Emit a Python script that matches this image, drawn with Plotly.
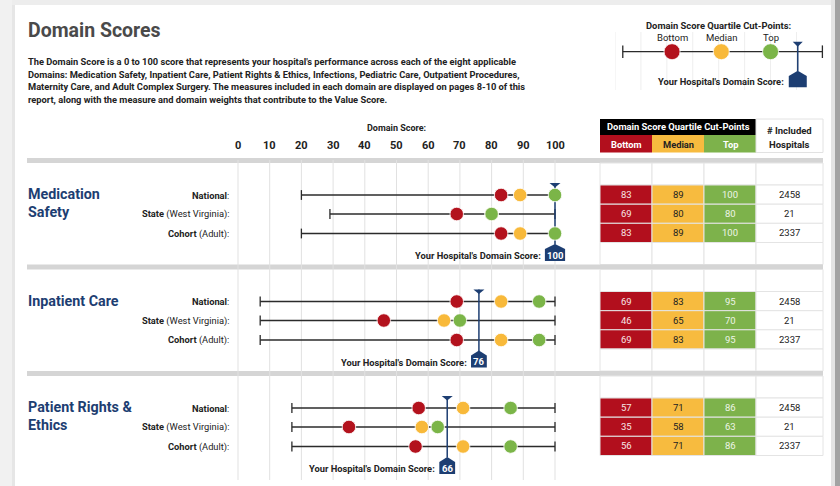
import plotly.graph_objects as go

# ---------------- data ----------------
TICKS = [0, 10, 20, 30, 40, 50, 60, 70, 80, 90, 100]
DOMAIN_LINES = [["Medication", "Safety"], ["Inpatient Care"], ["Patient Rights &", "Ethics"]]
GROUP_BOLD = ["National", "State", "Cohort"]
GROUP_REST = ["", " (West Virginia)", " (Adult)"]
MIN_SCORE = [[20, 29, 20], [7, 7, 7], [17, 17, 17]]
MAX_SCORE = [[100, 100, 100], [100, 100, 100], [100, 100, 100]]
BOTTOM = [[83, 69, 83], [69, 46, 69], [57, 35, 56]]
MEDIAN = [[89, 80, 89], [83, 65, 83], [71, 58, 71]]
TOP = [[100, 80, 100], [95, 70, 95], [86, 63, 86]]
N_HOSPITALS = [[2458, 21, 2337], [2458, 21, 2337], [2458, 21, 2337]]
YOUR_SCORE = [100, 76, 66]
QUARTILE_LABELS = ["Bottom", "Median", "Top"]
# illustrative key (legend) positions
KEY_VALUES = [22, 41, 60]
KEY_RANGE = [3, 80]
KEY_YOURS = 70.5

PARAGRAPH = [
    "The Domain Score is a 0 to 100 score that represents your hospital's performance across each of the eight applicable",
    "Domains: Medication Safety, Inpatient Care, Patient Rights & Ethics, Infections, Pediatric Care, Outpatient Procedures,",
    "Maternity Care, and Adult Complex Surgery. The measures included in each domain are displayed on pages 8-10 of this",
    "report, along with the measure and domain weights that contribute to the Value Score.",
]

# ---------------- styles ----------------
W, H = 840, 486
FONT = "Roboto"
RED, YEL, GRN = "#b3121d", "#f8b93a", "#7bb548"
CRED, CYEL, CGRN = "#b20f1d", "#f7bb3f", "#7db24b"
NAVY = "#1d3e72"
DARK = "#222222"
SM = 9.3
PXU = (555 - 238) / 100.0
X0 = 238
XR = [-10, 120]


def px(x):
    return x / W


def py(y):
    return 1 - y / H


fig = go.Figure()
shapes = []
ann = []


def text(x, y, t, size=SM, color=DARK, xanchor="center", xref="paper", yref="paper", **kw):
    ann.append(dict(x=x, y=y, text=t, xref=xref, yref=yref, xanchor=xanchor, yanchor="middle",
                    showarrow=False, font=dict(family=FONT, size=size, color=color), **kw))


def rect(x0, y0, x1, y1, fill, line=None, layer="below", lw=1):
    shapes.append(dict(type="rect", xref="paper", yref="paper", x0=px(x0), x1=px(x1), y0=py(y0), y1=py(y1),
                       fillcolor=fill, line=dict(width=lw if line else 0, color=line or fill), layer=layer))


# page edges
rect(0, 0, 840, 5, "#ededed")
rect(0, 0, 12, 486, "#f1f1f1")
rect(12, 5, 15, 486, "#e6e6e6")
rect(831, 0, 835, 486, "#e4e4e4")
rect(835, 0, 840, 486, "#a3a3a3")

# title + paragraph
text(px(26), py(31), "<b>Domain Scores</b>", size=19.5, color="#4a4a4a", xanchor="left")
for i, line in enumerate(PARAGRAPH):
    text(px(26), py(62 + 12.4 * i), "<b>" + line + "</b>", size=9.3, color=DARK, xanchor="left")

# gridlines on score axis
for t in TICKS:
    shapes.append(dict(type="line", xref="x", yref="y", x0=t, x1=t, y0=160, y1=480,
                       line=dict(color="#e1e1e1", width=1), layer="below"))
    text(t, 145, "<b>%d</b>" % t, size=11, color=DARK, xref="x", yref="y")
text(50, 128, "<b>Domain Score:</b>", size=9, color=DARK, xref="x", yref="y")

# table header
rect(600, 119, 756, 135, "#000000")
text(px(678), py(127), "<b>Domain Score Quartile Cut-Points</b>", size=9.4, color="white")
hdr_cols = [(600, 652, CRED, "white"), (652, 704, CYEL, DARK), (704, 756, CGRN, "white")]
for (a, b, c, tc), lab in zip(hdr_cols, QUARTILE_LABELS):
    rect(a, 135, b, 152.5, c)
    text(px((a + b) / 2), py(144), "<b>" + lab + "</b>", size=SM, color=tc)
rect(756, 119, 823, 152.5, "white", line="#e2e2e2")
text(px(789.5), py(130), "<b># Included</b>", size=9.5, color=DARK)
text(px(789.5), py(144), "<b>Hospitals</b>", size=9.5, color=DARK)

COLS = [600, 652, 704, 756, 823]
ROW_OFF = [37, 56, 75.5]
nb = len(YOUR_SCORE)

line_x, line_y, tick_x, tick_y = [], [], [], []
dot = {"r": ([], []), "y": ([], []), "g": ([], [])}
hosp_x, hosp_y = [], []

for i in range(nb):
    B = 158 + 106.5 * i
    # grey separator bar
    rect(27, B, 823, B + 5, "#d5d5d5")
    # domain name
    for j, ln in enumerate(DOMAIN_LINES[i]):
        text(px(26), py(B + 36 + 18 * j), "<b>" + ln + "</b>", size=14.3, color=NAVY, xanchor="left")
    # table cells
    row_edges = [B + 5, B + 27, B + 46.2, B + 65.3, B + 84.5]
    if i < nb - 1:
        row_edges.append(B + 106.5)
    for r in range(len(row_edges) - 1):
        for c in range(4):
            data_row = 1 <= r <= 3
            if data_row and c < 3:
                fill = [CRED, CYEL, CGRN][c]
            else:
                fill = "white"
            rect(COLS[c], row_edges[r], COLS[c + 1], row_edges[r + 1], fill, line="#e4e4e4")
    for k in range(3):
        yc = (row_edges[k + 1] + row_edges[k + 2]) / 2
        vals = [BOTTOM[i][k], MEDIAN[i][k], TOP[i][k], N_HOSPITALS[i][k]]
        tcs = ["#f7e6e6", DARK, "#eef5e8", DARK]
        for c in range(4):
            text(px((COLS[c] + COLS[c + 1]) / 2), py(yc), str(vals[c]), size=9.5, color=tcs[c])
    # chart rows
    for k in range(3):
        y = B + ROW_OFF[k]
        text(px(231), py(y), "<b>" + GROUP_BOLD[k] + "</b>" + GROUP_REST[k] + ":", size=SM,
             color=DARK, xanchor="right")
        line_x += [MIN_SCORE[i][k], MAX_SCORE[i][k], None]
        line_y += [y, y, None]
        tick_x += [MIN_SCORE[i][k], MAX_SCORE[i][k]]
        tick_y += [y, y]
        dot["r"][0].append(BOTTOM[i][k]); dot["r"][1].append(y)
        dot["y"][0].append(MEDIAN[i][k]); dot["y"][1].append(y)
        dot["g"][0].append(TOP[i][k]); dot["g"][1].append(y)
    # hospital marker
    h = YOUR_SCORE[i]
    hosp_x += [h, h, None]
    hosp_y += [B + 25, B + 86.5, None]
    tw = 5.5 / PXU
    shapes.append(dict(type="path", xref="x", yref="y",
                       path="M %f,%f L %f,%f L %f,%f Z" % (h - tw, B + 25, h + tw, B + 25, h, B + 29.5),
                       fillcolor=NAVY, line=dict(width=0), layer="above"))
    hwpx = 3.5 + 2.2 * len(str(h))
    hw = hwpx / PXU
    shapes.append(dict(type="path", xref="x", yref="y",
                       path="M %f,%f L %f,%f L %f,%f L %f,%f L %f,%f Z" % (
                           h - hw, B + 103, h - hw, B + 91, h, B + 86, h + hw, B + 91, h + hw, B + 103),
                       fillcolor=NAVY, line=dict(width=0), layer="above"))
    text(h, B + 97, "<b>%d</b>" % h, size=9.5, color="white", xref="x", yref="y")
    text(h, B + 97.5, "<b>Your Hospital's Domain Score:</b>", size=SM, color=DARK, xref="x", yref="y",
         xanchor="right", xshift=-(hwpx + 2))

fig.add_trace(go.Scatter(x=line_x, y=line_y, mode="lines", line=dict(color="#2b2b2b", width=1.3),
                         hoverinfo="skip", cliponaxis=False))
fig.add_trace(go.Scatter(x=tick_x, y=tick_y, mode="markers",
                         marker=dict(symbol="line-ns", size=7, line=dict(color="#2b2b2b", width=1.3)),
                         hoverinfo="skip", cliponaxis=False))
fig.add_trace(go.Scatter(x=hosp_x, y=hosp_y, mode="lines", line=dict(color=NAVY, width=1.5),
                         hoverinfo="skip", cliponaxis=False))
for key, col in (("r", RED), ("y", YEL), ("g", GRN)):
    fig.add_trace(go.Scatter(x=dot[key][0], y=dot[key][1], mode="markers",
                             marker=dict(size=13.5, color=col, line=dict(color="white", width=0.8)),
                             cliponaxis=False, hoverinfo="skip"))

# ---------------- key (top right) ----------------
KY = 51.7
for t in range(0, 80, 10):
    shapes.append(dict(type="line", xref="x2", yref="y2", x0=t, x1=t, y0=32, y1=90,
                       line=dict(color="#eeeeee", width=1), layer="below"))
fig.add_trace(go.Scatter(x=KEY_RANGE, y=[KY, KY], mode="lines+markers", xaxis="x2", yaxis="y2",
                         line=dict(color="#2b2b2b", width=1.3),
                         marker=dict(symbol="line-ns", size=9, line=dict(color="#2b2b2b", width=1.3)),
                         hoverinfo="skip", cliponaxis=False))
fig.add_trace(go.Scatter(x=[KEY_YOURS, KEY_YOURS], y=[42, 71], mode="lines", xaxis="x2", yaxis="y2",
                         line=dict(color=NAVY, width=1.5), hoverinfo="skip", cliponaxis=False))
fig.add_trace(go.Scatter(x=KEY_VALUES, y=[KY] * 3, mode="markers", xaxis="x2", yaxis="y2",
                         marker=dict(size=16, color=[RED, YEL, GRN], line=dict(color="white", width=0.8)),
                         hoverinfo="skip", cliponaxis=False))
KPXU = (822.4 - 615) / 80.0
ktw = 5 / KPXU
shapes.append(dict(type="path", xref="x2", yref="y2",
                   path="M %f,%f L %f,%f L %f,%f Z" % (KEY_YOURS - ktw, 41.7, KEY_YOURS + ktw, 41.7, KEY_YOURS, 46.7),
                   fillcolor=NAVY, line=dict(width=0), layer="above"))
khw = 9 / KPXU
shapes.append(dict(type="path", xref="x2", yref="y2",
                   path="M %f,%f L %f,%f L %f,%f L %f,%f L %f,%f Z" % (
                       KEY_YOURS - khw, 87.3, KEY_YOURS - khw, 76, KEY_YOURS, 70.7,
                       KEY_YOURS + khw, 76, KEY_YOURS + khw, 87.3),
                   fillcolor=NAVY, line=dict(width=0), layer="above"))
text(px(718), py(25), "<b>Domain Score Quartile Cut-Points:</b>", size=9.4, color=DARK)
for v, lab in zip(KEY_VALUES, QUARTILE_LABELS):
    text(v, 37.7, lab, size=9.5, color=DARK, xref="x2", yref="y2")
text(KEY_YOURS, 81, "<b>Your Hospital's Domain Score:</b>", size=SM, color=DARK, xref="x2", yref="y2",
     xanchor="right", xshift=-12)

fig.update_layout(
    width=W, height=H, margin=dict(l=0, r=0, t=0, b=0),
    paper_bgcolor="white", plot_bgcolor="rgba(0,0,0,0)", showlegend=False,
    xaxis=dict(domain=[(X0 + XR[0] * PXU) / W, (X0 + XR[1] * PXU) / W], range=XR, visible=False,
               fixedrange=True),
    yaxis=dict(domain=[0, 1], range=[H, 0], visible=False, fixedrange=True),
    xaxis2=dict(domain=[615 / W, 822.4 / W], range=[0, 80], visible=False, anchor="y2", fixedrange=True),
    yaxis2=dict(domain=[0, 1], range=[H, 0], visible=False, anchor="x2", fixedrange=True),
    shapes=shapes, annotations=ann,
)
fig.write_html("out.html", config={"displayModeBar": False},
               post_script="document.body.style.margin='0';")
